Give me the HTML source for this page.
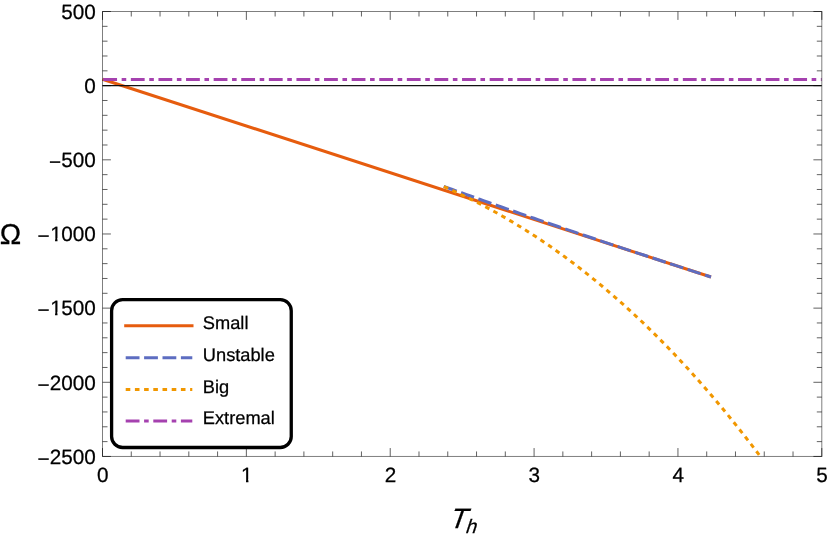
<!DOCTYPE html>
<html><head><meta charset="utf-8"><title>Plot</title>
<style>
html,body{margin:0;padding:0;background:#fff;}
body{width:830px;height:537px;overflow:hidden;}
svg{display:block;will-change:transform;}
text{font-family:"Liberation Sans",Arial,Helvetica,sans-serif;fill:#000;stroke:#000;stroke-width:0.25px;text-rendering:geometricPrecision;}
.tk text{font-size:20.7px;}
.lg text{font-size:18.25px;}
</style></head><body>
<svg width="830" height="537" viewBox="0 0 830 537">
<rect width="830" height="537" fill="#fff"/>
<defs><clipPath id="cp"><rect x="101.9" y="11.5" width="719.9" height="444.95"/></clipPath></defs>
<g clip-path="url(#cp)" fill="none" stroke-width="3">
<line x1="102.5" y1="79.2" x2="711.0" y2="277.0" stroke="#E65C0E"/>
<path d="M443.3 186.18 L447.84 187.83 L452.37 189.48 L456.91 191.12 L461.45 192.76 L465.99 194.39 L470.52 196.02 L475.06 197.64 L479.6 199.25 L484.14 200.86 L488.67 202.47 L493.21 204.07 L497.75 205.67 L502.28 207.26 L506.82 208.85 L511.36 210.43 L515.9 212.01 L520.43 213.59 L524.97 215.16 L529.51 216.72 L534.05 218.29 L538.58 219.85 L543.12 221.4 L547.66 222.95 L552.19 224.5 L556.73 226.04 L561.27 227.58 L565.81 229.12 L570.34 230.65 L574.88 232.18 L579.42 233.71 L583.96 235.23 L588.49 236.75 L593.03 238.27 L597.57 239.78 L602.11 241.3 L606.64 242.81 L611.18 244.31 L615.72 245.82 L620.25 247.32 L624.79 248.82 L629.33 250.32 L633.87 251.81 L638.4 253.3 L642.94 254.79 L647.48 256.28 L652.02 257.77 L656.55 259.26 L661.09 260.74 L665.63 262.22 L670.16 263.71 L674.7 265.19 L679.24 266.67 L683.78 268.14 L688.31 269.62 L692.85 271.1 L697.39 272.57 L701.93 274.05 L706.46 275.53 L711 277" stroke="#5D6DC1" stroke-dasharray="13.799999999999999 4.6" stroke-dashoffset="-0.45"/>
<path d="M443.3 186.39 L447.5 188.23 L451.7 190.12 L455.9 192.05 L460.09 194.02 L464.29 196.03 L468.49 198.08 L472.69 200.17 L476.89 202.3 L481.09 204.47 L485.29 206.68 L489.49 208.94 L493.68 211.24 L497.88 213.58 L502.08 215.96 L506.28 218.39 L510.48 220.86 L514.68 223.37 L518.88 225.93 L523.08 228.53 L527.27 231.18 L531.47 233.87 L535.67 236.6 L539.87 239.38 L544.07 242.21 L548.27 245.08 L552.47 248 L556.67 250.97 L560.86 253.98 L565.06 257.04 L569.26 260.15 L573.46 263.3 L577.66 266.51 L581.86 269.76 L586.06 273.06 L590.26 276.41 L594.45 279.8 L598.65 283.25 L602.85 286.75 L607.05 290.29 L611.25 293.89 L615.45 297.54 L619.65 301.24 L623.85 304.98 L628.04 308.79 L632.24 312.64 L636.44 316.54 L640.64 320.5 L644.84 324.51 L649.04 328.57 L653.24 332.69 L657.44 336.85 L661.63 341.08 L665.83 345.35 L670.03 349.68 L674.23 354.07 L678.43 358.51 L682.63 363 L686.83 367.55 L691.03 372.16 L695.22 376.82 L699.42 381.54 L703.62 386.32 L707.82 391.15 L712.02 396.04 L716.22 400.98 L720.42 405.99 L724.62 411.05 L728.81 416.17 L733.01 421.35 L737.21 426.59 L741.41 431.89 L745.61 437.24 L749.81 442.66 L754.01 448.14 L758.21 453.67 L762.4 459.27 L766.6 464.93 L770.8 470.65 L775 476.43" stroke="#F19700" stroke-dasharray="4.6 4.6" stroke-dashoffset="8.55"/>
<line x1="98.5" y1="79.5" x2="821.8" y2="79.5" stroke="#A541AF" stroke-dasharray="13.799999999999999 4.6 4.6 4.6" stroke-dashoffset="22.85"/>
<line x1="102.5" y1="85.66" x2="821.8" y2="85.66" stroke="#111" stroke-width="1.3"/>
</g>
<g fill="none" stroke="#000">
<rect x="102.5" y="11.5" width="719.3" height="444.95" stroke-width="1" stroke-opacity="0.5"/>
<path d="M102.5 456.45v-8.4M102.5 11.5v8.4M131.27 456.45v-5M131.27 11.5v5M160.04 456.45v-5M160.04 11.5v5M188.82 456.45v-5M188.82 11.5v5M217.59 456.45v-5M217.59 11.5v5M246.36 456.45v-8.4M246.36 11.5v8.4M275.13 456.45v-5M275.13 11.5v5M303.9 456.45v-5M303.9 11.5v5M332.68 456.45v-5M332.68 11.5v5M361.45 456.45v-5M361.45 11.5v5M390.22 456.45v-8.4M390.22 11.5v8.4M418.99 456.45v-5M418.99 11.5v5M447.76 456.45v-5M447.76 11.5v5M476.54 456.45v-5M476.54 11.5v5M505.31 456.45v-5M505.31 11.5v5M534.08 456.45v-8.4M534.08 11.5v8.4M562.85 456.45v-5M562.85 11.5v5M591.62 456.45v-5M591.62 11.5v5M620.4 456.45v-5M620.4 11.5v5M649.17 456.45v-5M649.17 11.5v5M677.94 456.45v-8.4M677.94 11.5v8.4M706.71 456.45v-5M706.71 11.5v5M735.48 456.45v-5M735.48 11.5v5M764.26 456.45v-5M764.26 11.5v5M793.03 456.45v-5M793.03 11.5v5M821.8 456.45v-8.4M821.8 11.5v8.4M102.5 11.5h8.4M821.8 11.5h-8.4M102.5 26.33h5M821.8 26.33h-5M102.5 41.16h5M821.8 41.16h-5M102.5 55.99h5M821.8 55.99h-5M102.5 70.83h5M821.8 70.83h-5M102.5 85.66h8.4M821.8 85.66h-8.4M102.5 100.49h5M821.8 100.49h-5M102.5 115.32h5M821.8 115.32h-5M102.5 130.15h5M821.8 130.15h-5M102.5 144.99h5M821.8 144.99h-5M102.5 159.82h8.4M821.8 159.82h-8.4M102.5 174.65h5M821.8 174.65h-5M102.5 189.48h5M821.8 189.48h-5M102.5 204.31h5M821.8 204.31h-5M102.5 219.14h5M821.8 219.14h-5M102.5 233.97h8.4M821.8 233.97h-8.4M102.5 248.81h5M821.8 248.81h-5M102.5 263.64h5M821.8 263.64h-5M102.5 278.47h5M821.8 278.47h-5M102.5 293.3h5M821.8 293.3h-5M102.5 308.13h8.4M821.8 308.13h-8.4M102.5 322.96h5M821.8 322.96h-5M102.5 337.8h5M821.8 337.8h-5M102.5 352.63h5M821.8 352.63h-5M102.5 367.46h5M821.8 367.46h-5M102.5 382.29h8.4M821.8 382.29h-8.4M102.5 397.12h5M821.8 397.12h-5M102.5 411.95h5M821.8 411.95h-5M102.5 426.79h5M821.8 426.79h-5M102.5 441.62h5M821.8 441.62h-5M102.5 456.45h8.4M821.8 456.45h-8.4" stroke-width="1" stroke-opacity="0.62"/>
</g>
<g class="tk"><text x="95.7" y="18.9" text-anchor="end">500</text><text x="95.7" y="92.81" text-anchor="end">0</text><text x="95.7" y="167.22" text-anchor="end"><tspan dy="1.9">−</tspan><tspan dy="-1.9">500</tspan></text><text x="95.7" y="241.18" text-anchor="end"><tspan dy="1.9">−</tspan><tspan dy="-1.9"><tspan dx="0.5">1</tspan><tspan dx="-0.5">000</tspan></tspan></text><text x="95.7" y="315.03" text-anchor="end"><tspan dy="1.9">−</tspan><tspan dy="-1.9"><tspan dx="0.5">1</tspan><tspan dx="-0.5">500</tspan></tspan></text><text x="95.7" y="389.69" text-anchor="end"><tspan dy="1.9">−</tspan><tspan dy="-1.9">2000</tspan></text><text x="95.7" y="463.85" text-anchor="end"><tspan dy="1.9">−</tspan><tspan dy="-1.9">2500</tspan></text><text x="102.7" y="482.3" text-anchor="middle">0</text><text x="246.86" y="482.3" text-anchor="middle">1</text><text x="390.42" y="482.3" text-anchor="middle">2</text><text x="534.28" y="482.3" text-anchor="middle">3</text><text x="678.14" y="482.3" text-anchor="middle">4</text><text x="822" y="482.3" text-anchor="middle">5</text></g>
<g fill="#fff"><rect x="50.23" y="238.03" width="4.83" height="4.75"/><rect x="57.49" y="238.03" width="4.67" height="4.75"/><rect x="50.23" y="311.89" width="4.83" height="4.75"/><rect x="57.49" y="311.89" width="4.67" height="4.75"/><rect x="241.18" y="479.15" width="4.83" height="4.75"/><rect x="248.44" y="479.15" width="4.67" height="4.75"/></g>
<text x="-0.2" y="243.6" font-size="28.7">Ω</text>
<text transform="translate(447.9 527.8) skewX(-19.4)" font-size="28">T</text>
<text transform="translate(464.8 532.7) skewX(-18)" font-size="19.4">h</text>
<g class="lg">
<rect x="111.6" y="299.65" width="179.65" height="147.85" rx="11" ry="11" fill="#fff" stroke="#000" stroke-width="3.3"/>
<g fill="none" stroke-width="3">
<line x1="124.2" y1="325.65" x2="193.5" y2="325.65" stroke="#E65C0E"/>
<line x1="125.7" y1="357.65" x2="192.3" y2="357.65" stroke="#5D6DC1" stroke-dasharray="13.799999999999999 4.6"/>
<line x1="125.7" y1="389.5" x2="192.3" y2="389.5" stroke="#F19700" stroke-dasharray="4.6 4.6"/>
<line x1="125.7" y1="421" x2="192.3" y2="421" stroke="#A541AF" stroke-dasharray="13.799999999999999 4.6 4.6 4.6"/>
</g>
<text x="202.8" y="329.2">Small</text>
<text x="202.8" y="360.9">Unstable</text>
<text x="202.8" y="392.6">Big</text>
<text x="202.8" y="424.1">Extremal</text>
</g>
</svg>
</body></html>
